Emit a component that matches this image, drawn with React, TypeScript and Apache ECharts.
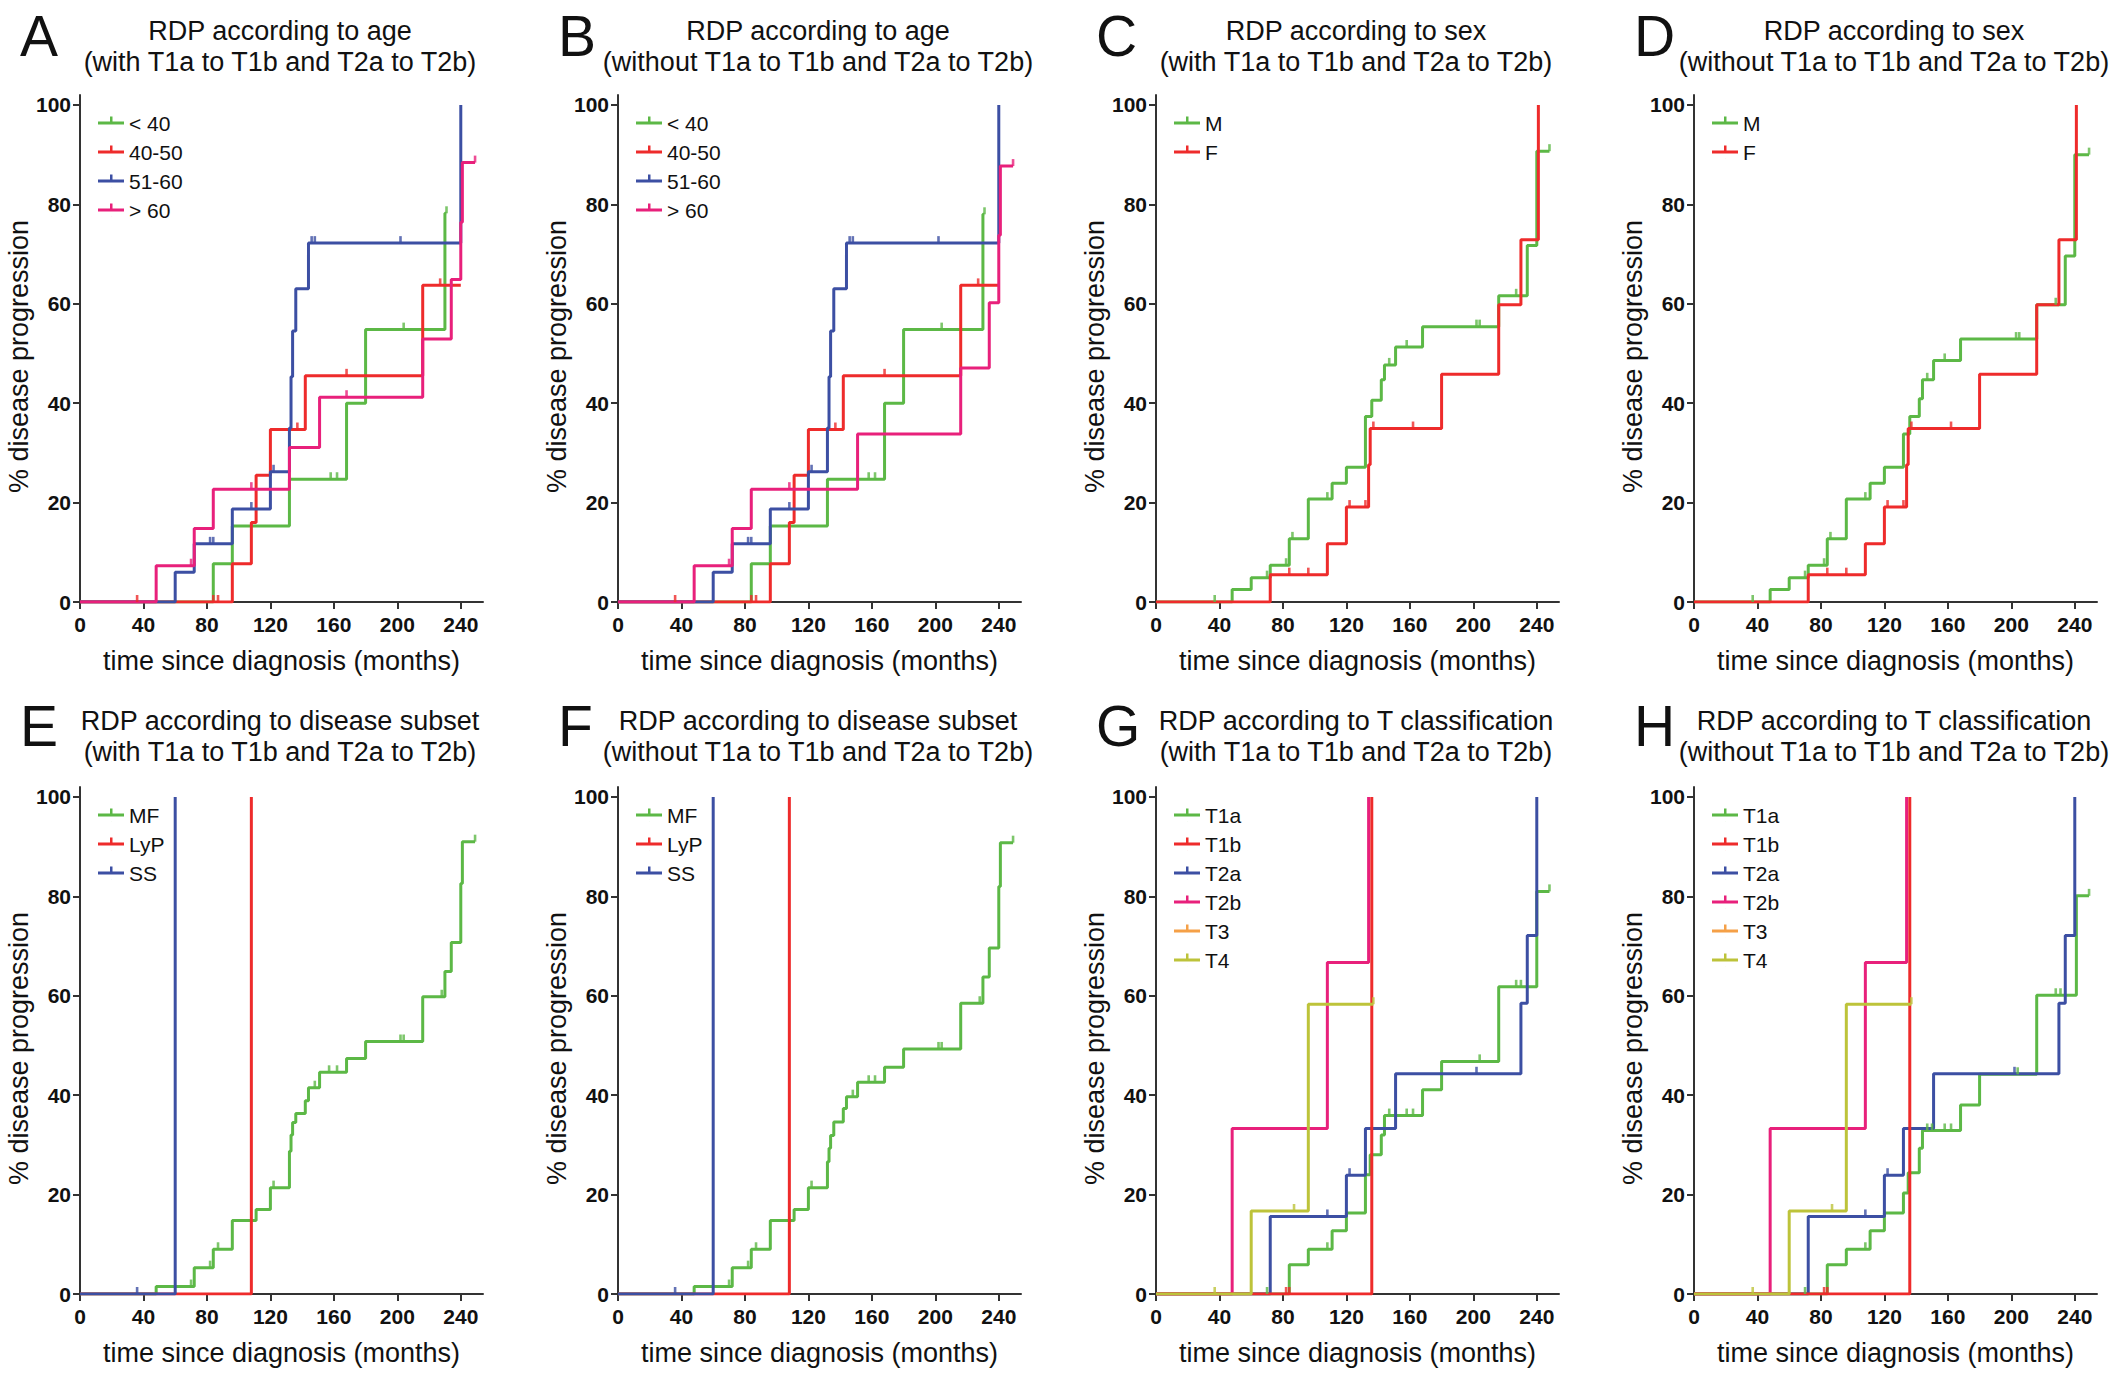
import React, { useEffect, useRef } from "react";
import * as echarts from "echarts";

// ---------- tick labels ----------
const X_TICKS = [0, 40, 80, 120, 160, 200, 240];
const Y_TICKS = [0, 20, 40, 60, 80, 100];

// ---------- Panel A : age, with ----------
const A_LT40 = [[0, 0], [84, 7.7], [96, 15.3], [132, 24.7], [168, 40], [180, 54.8], [230, 78.2], [231, 78.2]];
const A_LT40_C = [[158, 24.7], [162, 24.7], [204, 54.8], [231, 78.2]];
const A_4050 = [[0, 0], [96, 7.7], [108, 16], [111, 25.5], [120, 34.7], [142, 45.5], [216, 63.7], [240, 63.7]];
const A_4050_C = [[36, 0], [84, 0], [87, 0], [137, 34.7], [168, 45.5], [227, 63.7]];
const A_5160 = [[0, 0], [60, 6], [72, 11.7], [96, 18.7], [120, 26.2], [132, 35], [133, 45.3], [134, 54.5], [136, 63], [144, 72.2], [240, 100]];
const A_5160_C = [[82, 11.7], [84, 11.7], [108, 18.7], [122, 26.2], [146, 72.2], [148, 72.2], [202, 72.2]];
const A_GT60 = [[0, 0], [48, 7.3], [72, 14.8], [84, 22.7], [132, 31.1], [151, 41.2], [216, 52.9], [234, 64.9], [240, 76.4], [241, 88.4], [249, 88.4]];
const A_GT60_C = [[70, 7.3], [108, 22.7], [168, 41.2], [249, 88.4]];

// ---------- Panel B : age, without ----------
const B_LT40 = [[0, 0], [84, 7.7], [96, 15.3], [132, 24.7], [168, 40], [180, 54.8], [230, 78], [231, 78]];
const B_LT40_C = [[158, 24.7], [162, 24.7], [204, 54.8], [231, 78]];
const B_4050 = [[0, 0], [96, 7.7], [108, 16], [111, 25.5], [120, 34.7], [142, 45.5], [216, 63.7], [240, 63.7]];
const B_4050_C = [[36, 0], [84, 0], [87, 0], [137, 34.7], [168, 45.5], [227, 63.7]];
const B_5160 = [[0, 0], [60, 6], [72, 11.7], [96, 18.7], [120, 26.2], [132, 35], [133, 45.3], [134, 54.5], [136, 63], [144, 72.2], [240, 100]];
const B_5160_C = [[82, 11.7], [84, 11.7], [108, 18.7], [122, 26.2], [146, 72.2], [148, 72.2], [202, 72.2]];
const B_GT60 = [[0, 0], [48, 7.3], [72, 14.8], [84, 22.7], [151, 33.8], [216, 47.1], [234, 60.2], [240, 73.8], [241, 87.7], [249, 87.7]];
const B_GT60_C = [[70, 7.3], [108, 22.7], [249, 87.7]];

// ---------- Panel C : sex, with ----------
const C_M = [[0, 0], [48, 2.5], [60, 4.9], [72, 7.4], [84, 12.7], [96, 20.7], [111, 23.9], [120, 27.1], [132, 37.3], [136, 40.6], [142, 44.7], [144, 47.7], [151, 51.3], [168, 55.4], [216, 61.6], [234, 71.7], [240, 90.7], [248, 90.7]];
const C_M_C = [[37, 0], [70, 4.9], [82, 7.4], [86, 12.7], [108, 20.7], [147, 47.7], [158, 51.3], [202, 55.4], [204, 55.4], [227, 61.6], [248, 90.7]];
const C_F = [[0, 0], [72, 5.5], [108, 11.7], [120, 19.1], [134, 27.6], [135, 34.9], [180, 45.8], [216, 59.8], [230, 72.9], [241, 100]];
const C_F_C = [[84, 5.5], [96, 5.5], [122, 19.1], [132, 19.1], [137, 34.9], [162, 34.9]];

// ---------- Panel D : sex, without ----------
const D_M = [[0, 0], [48, 2.5], [60, 4.9], [72, 7.4], [84, 12.7], [96, 20.7], [111, 23.9], [120, 27.1], [132, 33.8], [136, 37.3], [142, 40.9], [144, 44.7], [151, 48.6], [168, 52.9], [216, 59.8], [234, 69.6], [240, 90], [249, 90]];
const D_M_C = [[37, 0], [70, 4.9], [82, 7.4], [86, 12.7], [108, 20.7], [147, 44.7], [158, 48.6], [203, 52.9], [205, 52.9], [228, 59.8], [249, 90]];
const D_F = [[0, 0], [72, 5.5], [108, 11.7], [120, 19.1], [134, 27.6], [135, 34.9], [180, 45.8], [216, 59.8], [230, 72.9], [241, 100]];
const D_F_C = [[84, 5.5], [96, 5.5], [122, 19.1], [132, 19.1], [137, 34.9], [162, 34.9]];

// ---------- Panel E : subset, with ----------
const E_MF = [[0, 0], [48, 1.5], [72, 5.3], [84, 9.0], [96, 14.8], [111, 17.0], [120, 21.4], [132, 28.7], [133, 32.0], [134, 34.5], [136, 36.3], [142, 38.9], [144, 41.5], [151, 44.6], [168, 47.4], [180, 50.8], [216, 59.8], [230, 64.9], [234, 70.7], [240, 82.6], [241, 91.0], [249, 91.0]];
const E_MF_C = [[70, 1.5], [82, 5.3], [87, 9.0], [122, 21.4], [148, 41.5], [157, 44.6], [162, 44.6], [202, 50.8], [204, 50.8], [228, 59.8], [249, 91.0]];
const E_LYP = [[0, 0], [108, 100]];
const E_LYP_C: number[][] = [];
const E_SS = [[0, 0], [60, 100]];
const E_SS_C = [[36, 0]];

// ---------- Panel F : subset, without ----------
const F_MF = [[0, 0], [48, 1.5], [72, 5.3], [84, 9.0], [96, 14.8], [111, 17.0], [120, 21.4], [132, 26.6], [133, 29.3], [134, 31.9], [136, 34.6], [142, 37.3], [144, 39.7], [151, 42.6], [168, 45.6], [180, 49.3], [216, 58.5], [230, 63.8], [234, 69.6], [240, 82], [241, 90.8], [249, 90.8]];
const F_MF_C = [[70, 1.5], [82, 5.3], [87, 9.0], [122, 21.4], [148, 39.7], [158, 42.6], [162, 42.6], [202, 49.3], [204, 49.3], [228, 58.5], [249, 90.8]];
const F_LYP = [[0, 0], [108, 100]];
const F_LYP_C: number[][] = [];
const F_SS = [[0, 0], [60, 100]];
const F_SS_C = [[36, 0]];

// ---------- Panel G : T classification, with ----------
const G_T1A = [[0, 0], [84, 5.9], [96, 9.0], [111, 12.7], [120, 16.3], [132, 24.0], [135, 28.0], [142, 32.0], [144, 35.9], [168, 41.1], [180, 46.8], [216, 61.8], [240, 81.0], [248, 81.0]];
const G_T1A_C = [[70, 0], [108, 9.0], [147, 35.9], [158, 35.9], [162, 35.9], [204, 46.8], [227, 61.8], [230, 61.8], [248, 81.0]];
const G_T1B = [[0, 0], [136, 100]];
const G_T1B_C = [[82, 0], [84, 0]];
const G_T2A = [[0, 0], [72, 15.6], [120, 23.9], [132, 33.3], [151, 44.3], [230, 58.5], [234, 72.1], [240, 100]];
const G_T2A_C = [[108, 15.6], [122, 23.9], [202, 44.3]];
const G_T2B = [[0, 0], [48, 33.3], [108, 66.7], [134, 100]];
const G_T2B_C: number[][] = [];
const G_T3 = [[0, 0], [40, 0]];
const G_T3_C: number[][] = [];
const G_T4 = [[0, 0], [60, 16.7], [96, 58.3], [137, 58.3]];
const G_T4_C = [[37, 0], [87, 16.7], [137, 58.3]];

// ---------- Panel H : T classification, without ----------
const H_T1A = [[0, 0], [84, 5.9], [96, 9.0], [111, 12.7], [120, 16.3], [132, 20.3], [135, 24.4], [142, 29.3], [144, 32.9], [168, 38.0], [180, 44.2], [216, 60.1], [241, 80.1], [249, 80.1]];
const H_T1A_C = [[70, 0], [108, 9.0], [147, 32.9], [150, 32.9], [158, 32.9], [162, 32.9], [204, 44.2], [228, 60.1], [231, 60.1], [249, 80.1]];
const H_T1B = [[0, 0], [136, 100]];
const H_T1B_C = [[82, 0], [84, 0]];
const H_T2A = [[0, 0], [72, 15.6], [120, 23.9], [132, 33.3], [151, 44.3], [230, 58.5], [234, 72.1], [240, 100]];
const H_T2A_C = [[108, 15.6], [122, 23.9], [202, 44.3]];
const H_T2B = [[0, 0], [48, 33.3], [108, 66.7], [134, 100]];
const H_T2B_C: number[][] = [];
const H_T3 = [[0, 0], [40, 0]];
const H_T3_C: number[][] = [];
const H_T4 = [[0, 0], [60, 16.7], [96, 58.3], [137, 58.3]];
const H_T4_C = [[37, 0], [87, 16.7], [137, 58.3]];

// ---------- styles ----------
const GREEN = "#5cb846";
const RED = "#ee2b2b";
const BLUE = "#3c4fa3";
const PINK = "#e8207b";
const ORANGE = "#f5a047";
const OLIVE = "#bdc33a";
const FONT = '"Liberation Sans", Arial, Helvetica, sans-serif';

const WITH = "(with T1a to T1b and T2a to T2b)";
const WITHOUT = "(without T1a to T1b and T2a to T2b)";

type Curve = { name: string; color: string; data: number[][]; cens: number[][] };
type Panel = { letter: string; title: string; legend: string[]; curves: Curve[] };

const AGE_NAMES = ["< 40", "40-50", "51-60", "> 60"];
const SEX_NAMES = ["M", "F"];
const SUB_NAMES = ["MF", "LyP", "SS"];
const T_NAMES = ["T1a", "T1b", "T2a", "T2b", "T3", "T4"];

const PANELS: Panel[] = [
  {
    letter: "A", title: "RDP according to age\n" + WITH, legend: AGE_NAMES,
    curves: [
      { name: "< 40", color: GREEN, data: A_LT40, cens: A_LT40_C },
      { name: "40-50", color: RED, data: A_4050, cens: A_4050_C },
      { name: "51-60", color: BLUE, data: A_5160, cens: A_5160_C },
      { name: "> 60", color: PINK, data: A_GT60, cens: A_GT60_C },
    ],
  },
  {
    letter: "B", title: "RDP according to age\n" + WITHOUT, legend: AGE_NAMES,
    curves: [
      { name: "< 40", color: GREEN, data: B_LT40, cens: B_LT40_C },
      { name: "40-50", color: RED, data: B_4050, cens: B_4050_C },
      { name: "51-60", color: BLUE, data: B_5160, cens: B_5160_C },
      { name: "> 60", color: PINK, data: B_GT60, cens: B_GT60_C },
    ],
  },
  {
    letter: "C", title: "RDP according to sex\n" + WITH, legend: SEX_NAMES,
    curves: [
      { name: "M", color: GREEN, data: C_M, cens: C_M_C },
      { name: "F", color: RED, data: C_F, cens: C_F_C },
    ],
  },
  {
    letter: "D", title: "RDP according to sex\n" + WITHOUT, legend: SEX_NAMES,
    curves: [
      { name: "M", color: GREEN, data: D_M, cens: D_M_C },
      { name: "F", color: RED, data: D_F, cens: D_F_C },
    ],
  },
  {
    letter: "E", title: "RDP according to disease subset\n" + WITH, legend: SUB_NAMES,
    curves: [
      { name: "MF", color: GREEN, data: E_MF, cens: E_MF_C },
      { name: "LyP", color: RED, data: E_LYP, cens: E_LYP_C },
      { name: "SS", color: BLUE, data: E_SS, cens: E_SS_C },
    ],
  },
  {
    letter: "F", title: "RDP according to disease subset\n" + WITHOUT, legend: SUB_NAMES,
    curves: [
      { name: "MF", color: GREEN, data: F_MF, cens: F_MF_C },
      { name: "LyP", color: RED, data: F_LYP, cens: F_LYP_C },
      { name: "SS", color: BLUE, data: F_SS, cens: F_SS_C },
    ],
  },
  {
    letter: "G", title: "RDP according to T classification\n" + WITH, legend: T_NAMES,
    curves: [
      { name: "T3", color: ORANGE, data: G_T3, cens: G_T3_C },
      { name: "T1a", color: GREEN, data: G_T1A, cens: G_T1A_C },
      { name: "T2a", color: BLUE, data: G_T2A, cens: G_T2A_C },
      { name: "T2b", color: PINK, data: G_T2B, cens: G_T2B_C },
      { name: "T1b", color: RED, data: G_T1B, cens: G_T1B_C },
      { name: "T4", color: OLIVE, data: G_T4, cens: G_T4_C },
    ],
  },
  {
    letter: "H", title: "RDP according to T classification\n" + WITHOUT, legend: T_NAMES,
    curves: [
      { name: "T3", color: ORANGE, data: H_T3, cens: H_T3_C },
      { name: "T1a", color: GREEN, data: H_T1A, cens: H_T1A_C },
      { name: "T2a", color: BLUE, data: H_T2A, cens: H_T2A_C },
      { name: "T2b", color: PINK, data: H_T2B, cens: H_T2B_C },
      { name: "T1b", color: RED, data: H_T1B, cens: H_T1B_C },
      { name: "T4", color: OLIVE, data: H_T4, cens: H_T4_C },
    ],
  },
];

// ---------- layout ----------
const COL_X0 = [80, 618, 1156, 1694];
const ROW_Y0 = [602, 1294];
const X_MAX = 254;
const PLOT_W = 403;
const PLOT_H = 507;
const LEGEND_ICON = "path://M0,5H12V0H14.5V5H26V7.8H0Z M13,12.7H13.2V12.8H13Z";

function buildOption() {
  const grid: any[] = [];
  const xAxis: any[] = [];
  const yAxis: any[] = [];
  const legend: any[] = [];
  const series: any[] = [];
  const graphic: any[] = [];

  PANELS.forEach((p, i) => {
    const col = i % 4;
    const row = Math.floor(i / 4);
    const x0 = COL_X0[col];
    const top = ROW_Y0[row] - PLOT_H;
    grid.push({ left: x0, top, width: PLOT_W, height: PLOT_H, containLabel: false });
    const axisLine = { show: true, lineStyle: { color: "#333", width: 2 } };
    const axisTickBase = { show: true, inside: false, length: 7, lineStyle: { color: "#333", width: 2 } };
    xAxis.push({
      gridIndex: i, type: "value", min: 0, max: X_MAX,
      axisLine, axisTick: { ...axisTickBase, customValues: X_TICKS },
      axisLabel: { customValues: X_TICKS, fontFamily: FONT, fontWeight: "bold", fontSize: 21, color: "#111", margin: 12 },
      splitLine: { show: false },
      name: "time since diagnosis (months)", nameLocation: "middle", nameGap: 45,
      nameTextStyle: { fontFamily: FONT, fontSize: 27, color: "#111" },
    });
    yAxis.push({
      gridIndex: i, type: "value", min: 0, max: 102,
      axisLine, axisTick: { ...axisTickBase, customValues: Y_TICKS },
      axisLabel: { customValues: Y_TICKS, fontFamily: FONT, fontWeight: "bold", fontSize: 21, color: "#111", margin: 9 },
      splitLine: { show: false },
      name: "% disease progression", nameLocation: "middle", nameGap: 45,
      nameTextStyle: { fontFamily: FONT, fontSize: 27, color: "#111", padding: [0, 16, 0, 0] },
    });
    legend.push({
      data: p.legend, orient: "vertical", left: x0 + 18, top: top + 17.5,
      padding: 0, itemWidth: 26, itemHeight: 12.8, itemGap: 8, icon: LEGEND_ICON,
      selectedMode: false,
      textStyle: { fontFamily: FONT, fontSize: 21, lineHeight: 21, color: "#111" },
    });
    p.curves.forEach((c) => {
      series.push({
        type: "line", name: c.name, xAxisIndex: i, yAxisIndex: i, data: c.data,
        step: "end", symbol: "none", silent: true, z: 2,
        lineStyle: { color: c.color, width: 3 }, itemStyle: { color: c.color },
      });
      series.push({
        type: "scatter", name: p.letter + " " + c.name + " censored", xAxisIndex: i, yAxisIndex: i,
        data: c.cens, symbol: "rect", symbolSize: [2.6, 7], symbolOffset: [0, -3.5], silent: true, z: 3,
        itemStyle: { color: c.color },
      });
    });
    graphic.push({
      type: "text", x: x0 + 200, y: row === 0 ? 15 : 705,
      style: { text: p.title, fill: "#111", fontFamily: FONT, fontSize: 27, lineHeight: 31, align: "center", verticalAlign: "top" },
    });
    graphic.push({
      type: "text", x: x0 - 60, y: row === 0 ? 36 : 726,
      style: { text: p.letter, fill: "#111", fontFamily: FONT, fontSize: 57, align: "left", verticalAlign: "middle" },
    });
  });

  return { animation: false, backgroundColor: "#fff", grid, xAxis, yAxis, legend, series, graphic };
}

export default function App() {
  const ref = useRef<HTMLDivElement>(null);
  useEffect(() => {
    if (!ref.current) return;
    const chart = echarts.init(ref.current, null, { renderer: "svg" });
    chart.setOption(buildOption());
    return () => chart.dispose();
  }, []);
  return (
    <div
      ref={ref}
      style={{ position: "fixed", left: 0, top: 0, width: 2126, height: 1375, background: "#fff" }}
    />
  );
}
